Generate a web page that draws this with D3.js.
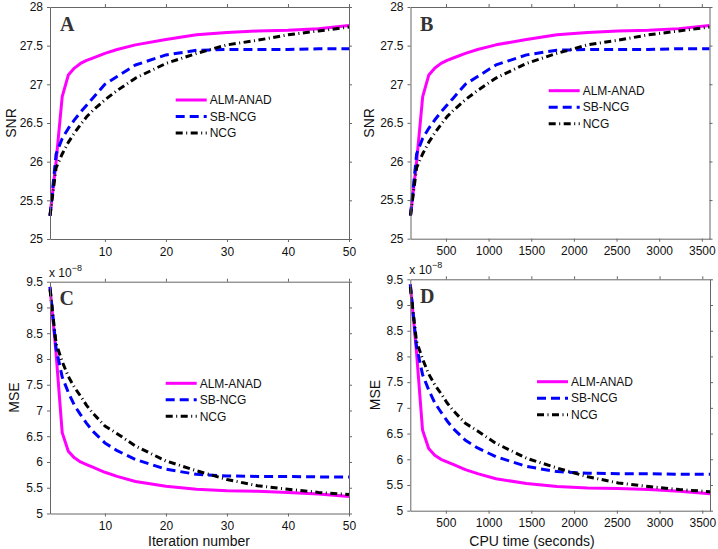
<!DOCTYPE html>
<html><head><meta charset="utf-8">
<script src="https://cdn.jsdelivr.net/npm/d3@7"></script>
<style>body{margin:0;background:#fff}svg{display:block}</style>
</head><body>
<svg id="c" width="718" height="549"></svg>
<script>
// ---- data ----
const iterations = [1,2,3,4,5,6,7,8,10,12,15,20,25,30,35,40,45,50];
const cpuTime    = [84,156,227,299,370,442,513,585,728,871,1086,1444,1801,2159,2517,2875,3232,3590];
const snrALM = [25.3,26.0,26.84,27.12,27.21,27.27,27.31,27.34,27.40,27.45,27.51,27.58,27.64,27.67,27.69,27.70,27.72,27.76];
const snrSB  = [25.3,26.1,26.3,26.43,26.54,26.64,26.73,26.82,27.0,27.1,27.25,27.38,27.44,27.45,27.45,27.45,27.46,27.46];
const snrNCG = [25.3,25.92,26.1,26.25,26.37,26.48,26.58,26.66,26.8,26.92,27.08,27.27,27.4,27.51,27.57,27.64,27.69,27.74];
const mseALM = [9.4,8.1,6.57,6.21,6.08,6.0,5.95,5.9,5.8,5.72,5.62,5.53,5.47,5.44,5.43,5.41,5.38,5.33];
const mseSB  = [9.4,8.2,7.65,7.35,7.1,6.92,6.75,6.6,6.37,6.22,6.05,5.86,5.76,5.73,5.72,5.72,5.71,5.71];
const mseNCG = [9.35,8.3,7.95,7.66,7.45,7.28,7.1,6.95,6.7,6.55,6.31,6.02,5.83,5.66,5.54,5.47,5.41,5.37];
const seriesNames = ["ALM-ANAD","SB-NCG","NCG"];
const iterTicks = [10,20,30,40,50];
const cpuTicks  = [500,1000,1500,2000,2500,3000,3500];
const snrTicks  = [25,25.5,26,26.5,27,27.5,28];
const mseTicks  = [5,5.5,6,6.5,7,7.5,8,8.5,9,9.5];

// ---- styles ----
const styles = [
  {color:"#ff00ff", width:3, dash:null},
  {color:"#0000ff", width:3, dash:"9,5"},
  {color:"#000000", width:3, dash:"7,3.5,1,3.5"}
];
const FONT = "'Liberation Sans', Arial, Helvetica, sans-serif";

const panels = [
  {xs:iterations, xDomain:[1,50], xTicks:iterTicks, ys:[snrALM,snrSB,snrNCG], yDomain:[25,28], yTicks:snrTicks,
   L:50, R:349, T:7, B:239, letter:"A", lx:60, ly:31, ylabel:"SNR", ylx:11, leg:[175.7,100]},
  {xs:cpuTime, xDomain:[84,3590], xTicks:cpuTicks, ys:[snrALM,snrSB,snrNCG], yDomain:[25,28], yTicks:snrTicks,
   L:410.5, R:709.5, T:7, B:238.7, letter:"B", lx:420, ly:31, ylabel:"SNR", ylx:369, leg:[548.7,90.7]},
  {xs:iterations, xDomain:[1,50], xTicks:iterTicks, ys:[mseALM,mseSB,mseNCG], yDomain:[5,9.5], yTicks:mseTicks,
   L:50, R:349, T:281.7, B:513.5, letter:"C", lx:59.5, ly:305, ylabel:"MSE", ylx:14, leg:[165.7,383.3],
   exp:true, xlabel:"Iteration number", xlc:199, xly:546},
  {xs:cpuTime, xDomain:[84,3590], xTicks:cpuTicks, ys:[mseALM,mseSB,mseNCG], yDomain:[5,9.5], yTicks:mseTicks,
   L:410.3, R:710, T:279.3, B:510.7, letter:"D", lx:420, ly:303, ylabel:"MSE", ylx:375, leg:[537,381.7],
   exp:true, xlabel:"CPU time (seconds)", xlc:532, xly:545.5}
];

const svg = d3.select("#c");
svg.append("rect").attr("width",718).attr("height",549).attr("fill","#fff");

panels.forEach(p => {
  const x = d3.scaleLinear().domain(p.xDomain).range([p.L, p.R]);
  const y = d3.scaleLinear().domain(p.yDomain).range([p.B, p.T]);
  const g = svg.append("g");

  // series
  p.ys.forEach((vals, i) => {
    const st = styles[i];
    const line = d3.line().x((d,k) => x(p.xs[k])).y(d => y(d));
    const path = g.append("path").datum(vals)
      .attr("d", line).attr("fill","none")
      .attr("stroke", st.color).attr("stroke-width", st.width)
      .attr("stroke-linejoin","round");
    if (st.dash) path.attr("stroke-dasharray", st.dash);
  });

  // axes (ticks outward)
  const axCol = "#666";
  const styleAxis = sel => {
    sel.selectAll(".domain").attr("stroke", axCol).attr("stroke-width",1);
    sel.selectAll(".tick line").attr("stroke", axCol);
    sel.selectAll(".tick text").attr("fill","#111").style("font-family",FONT).style("font-size","12px");
  };
  g.append("g").attr("transform",`translate(0,${p.B})`)
    .call(d3.axisBottom(x).tickValues(p.xTicks).tickSize(3).tickSizeOuter(0).tickPadding(5).tickFormat(d3.format("d")))
    .call(styleAxis);
  g.append("g").attr("transform",`translate(0,${p.T})`)
    .call(d3.axisTop(x).tickValues(p.xTicks).tickSize(3).tickSizeOuter(0).tickFormat(""))
    .call(styleAxis);
  g.append("g").attr("transform",`translate(${p.L},0)`)
    .call(d3.axisLeft(y).tickValues(p.yTicks).tickSize(3).tickSizeOuter(0).tickPadding(4).tickFormat(d => String(d)))
    .call(styleAxis);
  g.append("g").attr("transform",`translate(${p.R},0)`)
    .call(d3.axisRight(y).tickValues(p.yTicks).tickSize(3).tickSizeOuter(0).tickFormat(""))
    .call(styleAxis);
  g.selectAll("g").attr("font-size",null);

  // panel letter
  g.append("text").attr("x",p.lx).attr("y",p.ly).text(p.letter)
    .style("font-family","'Liberation Serif','Times New Roman',serif").style("font-weight","bold")
    .style("font-size","20px").attr("fill","#333");

  // y label
  g.append("text").attr("transform",`translate(${p.ylx},${(p.T+p.B)/2}) rotate(-90)`)
    .attr("text-anchor","middle").attr("dy","0.35em").text(p.ylabel)
    .style("font-family",FONT).style("font-size","14px").attr("fill","#111");

  // x label
  if (p.xlabel) {
    g.append("text").attr("x",p.xlc).attr("y",p.xly).attr("text-anchor","middle").text(p.xlabel)
      .style("font-family",FONT).style("font-size","14px").attr("fill","#111");
  }

  // exponent
  if (p.exp) {
    const t = g.append("text").attr("x",p.L-1).attr("y",p.T-5)
      .style("font-family",FONT).style("font-size","12px").attr("fill","#111");
    t.append("tspan").text("x 10");
    t.append("tspan").attr("dy","-6").style("font-size","9px").text("\u22128");
  }

  // legend
  const [lx, ly] = p.leg;
  seriesNames.forEach((name, i) => {
    const st = styles[i];
    const yy = ly + i*16.5;
    const ln = g.append("line").attr("x1",lx).attr("x2",lx+31).attr("y1",yy).attr("y2",yy)
      .attr("stroke",st.color).attr("stroke-width",st.width);
    if (st.dash) ln.attr("stroke-dasharray", st.dash);
    g.append("text").attr("x",lx+34).attr("y",yy).attr("dy","0.35em").text(name)
      .style("font-family",FONT).style("font-size","12px").attr("fill","#111");
  });
});
</script>
</body></html>
